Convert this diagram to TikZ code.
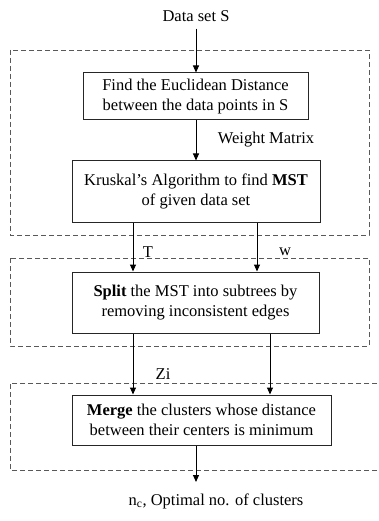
\documentclass[tikz,border=0pt]{standalone}
\usepackage{fontspec}
\setmainfont{Liberation Serif}
\usetikzlibrary{arrows.meta}
\begin{document}
\begin{tikzpicture}[x=1pt,y=-1pt,
  box/.style={draw=black!85, line width=1pt, inner sep=0pt, align=center, font=\fontsize{16.5}{19.5}\selectfont},
  grp/.style={draw=black!65, dash pattern=on 5pt off 3pt, line width=0.8pt},
  arr/.style={-{Triangle[length=7pt,width=6pt]}, line width=1pt},
  lbl/.style={font=\fontsize{16.5}{19.5}\selectfont, inner sep=1pt},
  wlbl/.style={lbl, fill=white, inner xsep=3pt}]
\useasboundingbox (0,0) rectangle (378,521);
% group frames
\draw[grp] (10,50) rectangle (369,235);
\draw[grp] (10,258) rectangle (369,346);
\draw[grp] (385,383) -- (10,383) -- (10,470) -- (385,470);
% boxes
\node[box, minimum width=225pt, minimum height=47pt] (b1) at (195.5,96.5)
  {Find the Euclidean Distance\\between the data points in S};
\node[box, minimum width=248pt, minimum height=61pt] (b2) at (196,191.5)
  {Kruskal’s Algorithm to find \textbf{MST}\\of given data set};
\node[box, minimum width=247pt, minimum height=61pt] (b3) at (195.5,302.5)
  {\textbf{Split} the MST into subtrees by\\removing inconsistent edges};
\node[box, minimum width=259pt, minimum height=50pt] (b4) at (201.5,420)
  {\textbf{Merge} the clusters whose distance\\between their centers is minimum};
% labels
\node[lbl] (ds) at (196,16) {Data set S};
\node[lbl] (wm) at (266,140) {Weight Matrix};
\node[wlbl] (lt) at (148,252) {T};
\node[wlbl] (lw) at (285,252) {w};
\node[wlbl] (lz) at (163,374) {Zi};
\node[lbl] (out) at (216,501) {n\textsubscript{c}, Optimal no. of clusters};
% connector x positions
\coordinate (xa) at (133,0);
\coordinate (xb) at (257,0);
\coordinate (xc) at (270,0);
\coordinate (xm) at (196,0);
\coordinate (end) at (196,482);
% arrows
\draw[arr] (ds.south -| xm) ++(0,6) -- (b1.north -| xm);
\draw[arr] (b1.south -| xm) -- (b2.north -| xm);
\draw[arr] (b2.south -| xa) -- (b3.north -| xa);
\draw[arr] (b2.south -| xb) -- (b3.north -| xb);
\draw[arr] (b3.south -| xa) -- (b4.north -| xa);
\draw[arr] (b3.south -| xc) -- (b4.north -| xc);
\draw[arr] (b4.south -| xm) -- (end);
\end{tikzpicture}
\end{document}
